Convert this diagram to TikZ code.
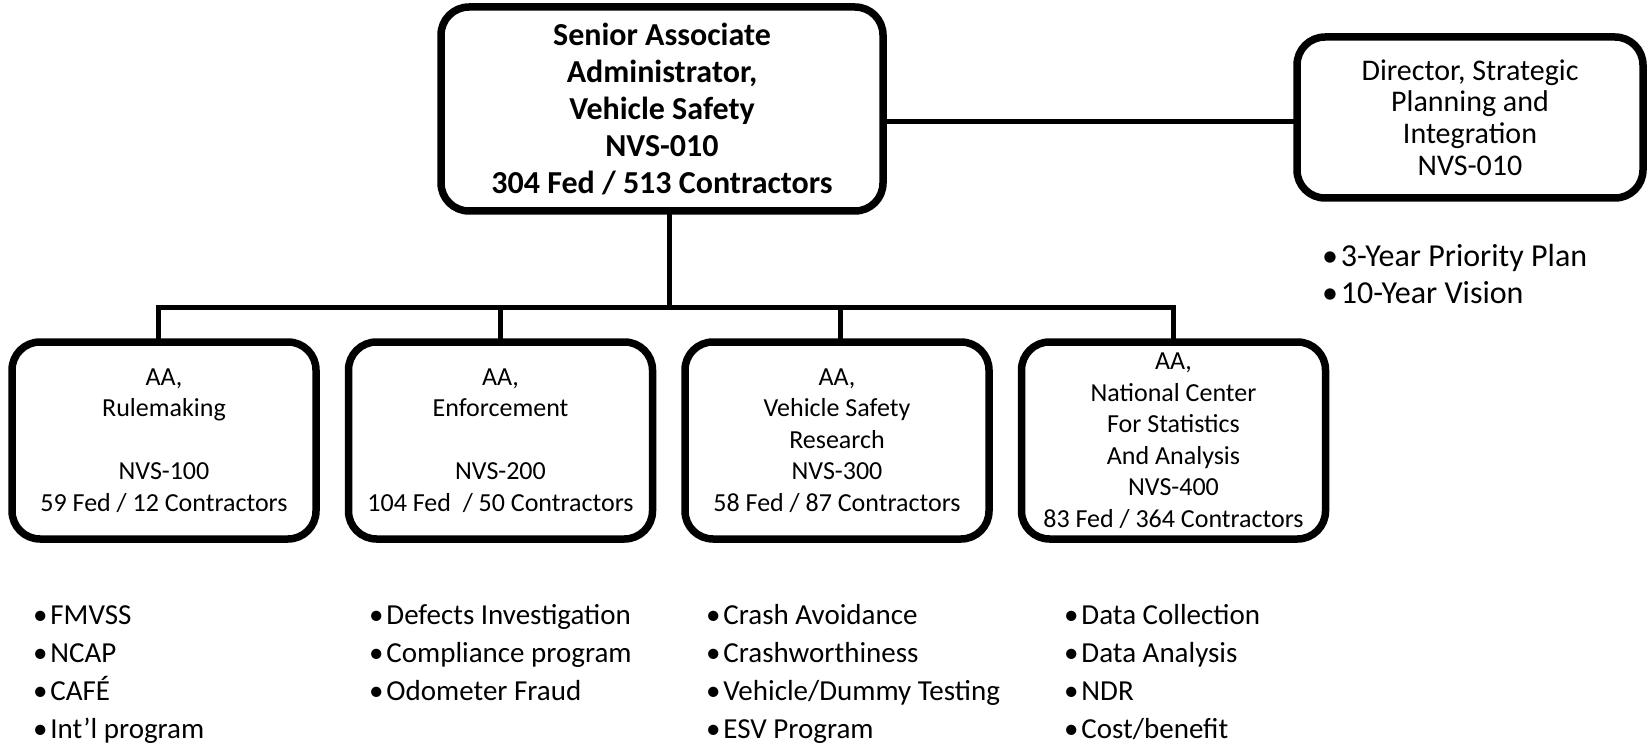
\documentclass[tikz,border=0pt]{standalone}
\usepackage{fontspec}
\setmainfont{Carlito}
\usetikzlibrary{positioning}

\begin{document}
\begin{tikzpicture}[
  x=1pt, y=-1pt,
  every node/.style={inner sep=0pt, outer sep=0pt},
  unitbox/.style={draw, line width=7.5pt, rounded corners=28pt, align=center,
    font=\fontsize{26}{31.5}\selectfont, minimum width=304pt, minimum height=197pt},
  headbox/.style={unitbox, font=\bfseries\fontsize{32}{37}\selectfont,
    minimum width=442pt, minimum height=204pt},
  staffbox/.style={unitbox, font=\fontsize{30}{31.7}\selectfont,
    minimum width=346pt, minimum height=161pt},
  tasklist/.style={align=left, anchor=base west, font=\fontsize{29}{37.7}\selectfont},
  link/.style={line width=5pt},
  ]
\useasboundingbox (0,0) rectangle (1650,746);

% Top of the chart
\node[headbox] (head) at (662,109) {Senior Associate\\Administrator,\\Vehicle Safety\\NVS-010\\304 Fed / 513 Contractors};
\node[staffbox] (staff) at (1470,117.5) {Director, Strategic\\Planning and\\Integration\\NVS-010};

% Associate administrators
\node[unitbox] (rule) at (164,440.5) {AA,\\Rulemaking\\~\\NVS-100\\59 Fed / 12 Contractors};
\node[unitbox] (enforce) at (500.5,440.5) {AA,\\Enforcement\\~\\NVS-200\\104 Fed~ / 50 Contractors};
\node[unitbox] (research) at (837,440.5) {AA,\\Vehicle Safety\\Research\\NVS-300\\58 Fed / 87 Contractors};
\node[unitbox] (stats) at (1173.5,440.5) {AA,\\National Center\\For Statistics\\And Analysis\\NVS-400\\83 Fed / 364 Contractors};

% Connectors
\coordinate (bus) at (662,307);
\draw[link] ([xshift=7pt]head.south) -- ([xshift=7pt]head.south |- bus);
\draw[link] ([yshift=-4.5pt]staff.west -| head.east) -- ([yshift=-4.5pt]staff.west);
\draw[link] ([xshift=-6pt]rule.north) |- (stats.north |- bus) -- (stats.north);
\draw[link] (enforce.north) -- (enforce.north |- bus);
\draw[link] ([xshift=3pt]research.north) -- ([xshift=3pt]research.north |- bus);

% Program lists (anchored at the last line)
\node[tasklist, font=\fontsize{32}{36}\selectfont] (stafflist) at (1322,303) {\textbullet\hspace{3pt}3-Year Priority Plan\\\textbullet\hspace{3pt}10-Year Vision};
\node[tasklist] (rulelist) at (33,738) {\textbullet\hspace{3pt}FMVSS\\\textbullet\hspace{3pt}NCAP\\\textbullet\hspace{3pt}CAFÉ\\\textbullet\hspace{3pt}Int’l program};
\node[tasklist] (enforcelist) at (369,700) {\textbullet\hspace{3pt}Defects Investigation\\\textbullet\hspace{3pt}Compliance program\\\textbullet\hspace{3pt}Odometer Fraud};
\node[tasklist] (researchlist) at (706,738) {\textbullet\hspace{3pt}Crash Avoidance\\\textbullet\hspace{3pt}Crashworthiness\\\textbullet\hspace{3pt}Vehicle/Dummy Testing\\\textbullet\hspace{3pt}ESV Program};
\node[tasklist] (statslist) at (1064,738) {\textbullet\hspace{3pt}Data Collection\\\textbullet\hspace{3pt}Data Analysis\\\textbullet\hspace{3pt}NDR\\\textbullet\hspace{3pt}Cost/benefit};

\end{tikzpicture}
\end{document}
